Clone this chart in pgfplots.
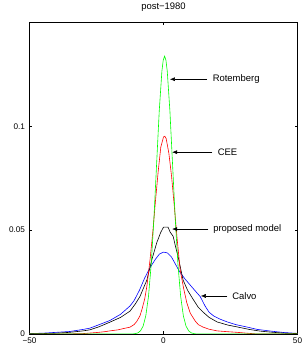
\documentclass[border=0pt]{standalone}
\usepackage{fontspec}
\setmainfont{Liberation Sans}
\usepackage{pgfplots}
\pgfplotsset{compat=1.18}
\usetikzlibrary{arrows.meta}
\begin{document}
\begin{tikzpicture}
\begin{axis}[
  at={(0,0)}, anchor=south west,
  scale only axis, width=268bp, height=311.7bp,
  xmin=-50, xmax=50, ymin=0, ymax=0.15,
  xtick={-50,0,50}, xticklabels={−50,0,50},
  ytick={0,0.05,0.1}, yticklabels={0,0.05,0.1},
  tick align=inside, major tick length=3bp,
  tick label style={font=\fontsize{8.2}{9}\selectfont},
  yticklabel style={xshift=-1bp},
  title={post−1980}, title style={font=\fontsize{9.5}{10}\selectfont, at={(0.5,1)}, anchor=base, yshift=6.8bp},
  axis line style={line width=0.6pt},
  every tick/.style={black, line width=0.5pt},
]
% Calvo
\addplot[blue, line width=0.6pt] coordinates {
(-50,0.0002) (-45,0.0004) (-40,0.0008) (-35,0.0012) (-30,0.0022) (-27.5,0.0028) (-24,0.0045) (-20,0.0065) (-16,0.0095) (-12.5,0.0135) (-11,0.016) (-9,0.021) (-7,0.027) (-5,0.032) (-3,0.036) (-1.5,0.0385) (0,0.0394) (1.5,0.039) (3,0.037) (4.5,0.0335) (6,0.030) (8,0.0265) (10,0.0235) (12,0.0205) (13.7,0.018) (15.5,0.0135) (17,0.0105) (18.7,0.0087) (21,0.0072) (23.8,0.0058) (27,0.0045) (31,0.0034) (35,0.0022) (40,0.0014) (45,0.0007) (50,0.0003)
};
% proposed model
\addplot[black, line width=0.6pt] coordinates {
(-50,0.0001) (-45,0.0002) (-40,0.0004) (-35,0.0008) (-30,0.0015) (-27.5,0.002) (-24,0.0035) (-20,0.0057) (-16,0.008) (-12.5,0.011) (-10.5,0.0145) (-8.8,0.018) (-7.5,0.022) (-6.2,0.026) (-4.3,0.036) (-2.5,0.044) (-1,0.049) (0,0.0514) (1.7,0.0514) (2.5,0.049) (3.6,0.047) (4.5,0.042) (5.4,0.0375) (7.3,0.026) (9,0.021) (11,0.0168) (13,0.0128) (14.8,0.0105) (17,0.008) (20,0.0058) (24,0.0043) (27.5,0.0034) (32,0.0022) (36,0.0014) (40,0.0009) (45,0.0004) (50,0.0002)
};
% CEE
\addplot[red, line width=0.6pt] coordinates {
(-50,0) (-37,0) (-30,0.0002) (-25,0.0007) (-22,0.0011) (-20,0.0015) (-17,0.002) (-15,0.0026) (-12.5,0.0033) (-11,0.0045) (-10,0.006) (-8.8,0.0087) (-8,0.012) (-7,0.017) (-6.2,0.023) (-5,0.036) (-4,0.049) (-3,0.064) (-2,0.078) (-1,0.090) (0,0.0948) (0.5,0.0952) (1,0.094) (2,0.087) (3,0.076) (4,0.062) (5,0.047) (6.2,0.031) (7.5,0.022) (8.7,0.015) (10,0.010) (11.8,0.0063) (13,0.0045) (14.8,0.0033) (17,0.0023) (20,0.0015) (24,0.0011) (27.5,0.0008) (31,0.0004) (35,0) (50,0)
};
% Rotemberg
\addplot[green, line width=0.6pt] coordinates {
(-50,0) (-11.6,0) (-10.6,0.0002) (-9.6,0.0005) (-8.6,0.0015) (-7.6,0.0038) (-6.6,0.0088) (-5.6,0.0181) (-4.6,0.0333) (-3.6,0.0550) (-2.6,0.0811) (-1.6,0.1071) (-0.6,0.1265) (-0.1,0.1318) (0.4,0.1337) (0.9,0.1318) (1.4,0.1265) (2.4,0.1071) (3.4,0.0811) (4.4,0.0550) (5.4,0.0333) (6.4,0.0181) (7.4,0.0088) (8.4,0.0038) (9.4,0.0015) (10.4,0.0005) (11.4,0.0002) (12.4,0) (50,0)
};
\begin{scope}[font=\fontsize{9.5}{10}\selectfont]
\draw[black, line width=0.5pt, -{Latex[length=5bp,width=4bp]}] (axis cs:16.3,0.1226) -- (axis cs:2.4,0.1226);
\node[anchor=west, inner sep=0pt] at (axis cs:18.3,0.1226) {Rotemberg};
\draw[black, line width=0.5pt, -{Latex[length=5bp,width=4bp]}] (axis cs:18.2,0.0875) -- (axis cs:3.2,0.0875);
\node[anchor=west, inner sep=0pt] at (axis cs:20.2,0.0875) {CEE};
\draw[black, line width=0.5pt, -{Latex[length=5bp,width=4bp]}] (axis cs:16.7,0.0505) -- (axis cs:3.2,0.0505);
\node[anchor=west, inner sep=0pt] at (axis cs:18.5,0.0505) {proposed model};
\draw[black, line width=0.5pt, -{Latex[length=5bp,width=4bp]}] (axis cs:23.8,0.0183) -- (axis cs:13.9,0.0183);
\node[anchor=west, inner sep=0pt] at (axis cs:25.6,0.0183) {Calvo};
\end{scope}
\end{axis}
\pgfresetboundingbox
\path (-29.5bp,-12bp) rectangle (273.5bp,334bp);
\end{tikzpicture}
\end{document}
